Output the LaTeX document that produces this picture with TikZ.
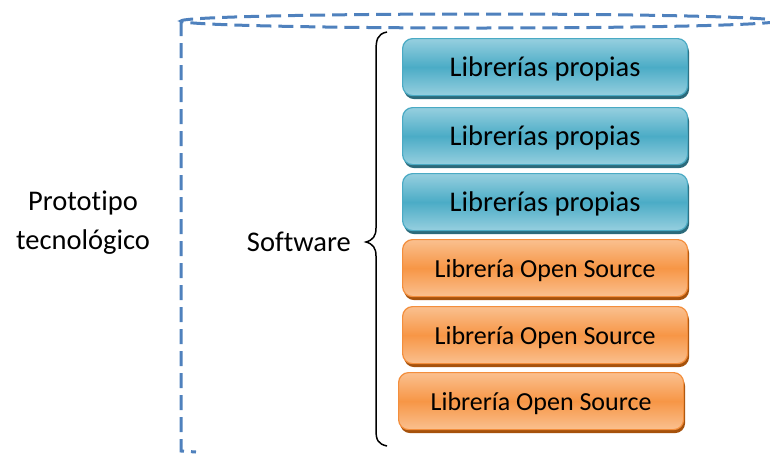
\documentclass[tikz,border=0pt]{standalone}
\usepackage{fontspec}
\setmainfont{Carlito}[Ligatures={NoCommon}]
\usetikzlibrary{shadows}
\definecolor{bluemid}{HTML}{4BACC6}
\definecolor{bluelt}{HTML}{96CFDF}
\definecolor{bluebd}{HTML}{4AAAC4}
\definecolor{blueshd}{HTML}{2B6A7B}
\definecolor{orgmid}{HTML}{F79646}
\definecolor{orglt}{HTML}{FAC08F}
\definecolor{orgbd}{HTML}{F38E3C}
\definecolor{orgshd}{HTML}{A6520C}
\definecolor{dashblue}{HTML}{4F81BD}
\begin{document}
\begin{tikzpicture}[x=1pt,y=-1pt,
  libbox/.style={rounded corners=10pt, minimum width=285pt, minimum height=57pt,
    inner sep=0pt, anchor=north west, line width=1.2pt, text depth=0pt},
  bluebox/.style={libbox, draw=bluebd, top color=bluelt, bottom color=bluelt, middle color=bluemid,
    general shadow={fill=blueshd, shadow xshift=1.5pt, shadow yshift=-3.5pt},
    font=\fontsize{28.5}{30}\selectfont},
  orgbox/.style={libbox, draw=orgbd, top color=orglt, bottom color=orglt, middle color=orgmid,
    general shadow={fill=orgshd, shadow xshift=1.5pt, shadow yshift=-3.5pt},
    font=\fontsize{26}{28}\selectfont},
  lbl/.style={font=\fontsize{28.5}{30}\selectfont, inner sep=0pt},
  dashline/.style={draw=dashblue, line width=3pt, dash pattern=on 15pt off 7pt}
]
\useasboundingbox (0,0) rectangle (770,453);
\begin{scope}
\clip (0,0) rectangle (770,453);
\draw[dashline] (181,21) -- (181,451) -- (196,452);
\draw[dashline] (479,21) ellipse [x radius=298, y radius=7];
\end{scope}

\node[bluebox] (b1) at (402,38) {Librerías propias};
\node[bluebox] (b2) at (402,107) {Librerías propias};
\node[bluebox] (b3) at (402,173) {Librerías propias};
\node[orgbox] (o1) at (402,239) {Librería Open Source};
\node[orgbox] (o2) at (402,306) {Librería Open Source};
\node[orgbox] (o3) at (398,372) {Librería Open Source};

\node[lbl] (proto) at (83,203) {Prototipo};
\node[lbl] (tecno) at (83,242) {tecnológico};
\node[lbl, anchor=east] (soft) at (351,242) {Software};

\draw[line width=1.5pt] (387,32) .. controls (377,34) and (376,40) .. (376,52)
  -- (376,228) .. controls (376,236) and (373,240) .. (366,242)
  .. controls (373,244) and (376,248) .. (376,256)
  -- (376,430) .. controls (376,440) and (378,444) .. (387,446);
\end{tikzpicture}
\end{document}
